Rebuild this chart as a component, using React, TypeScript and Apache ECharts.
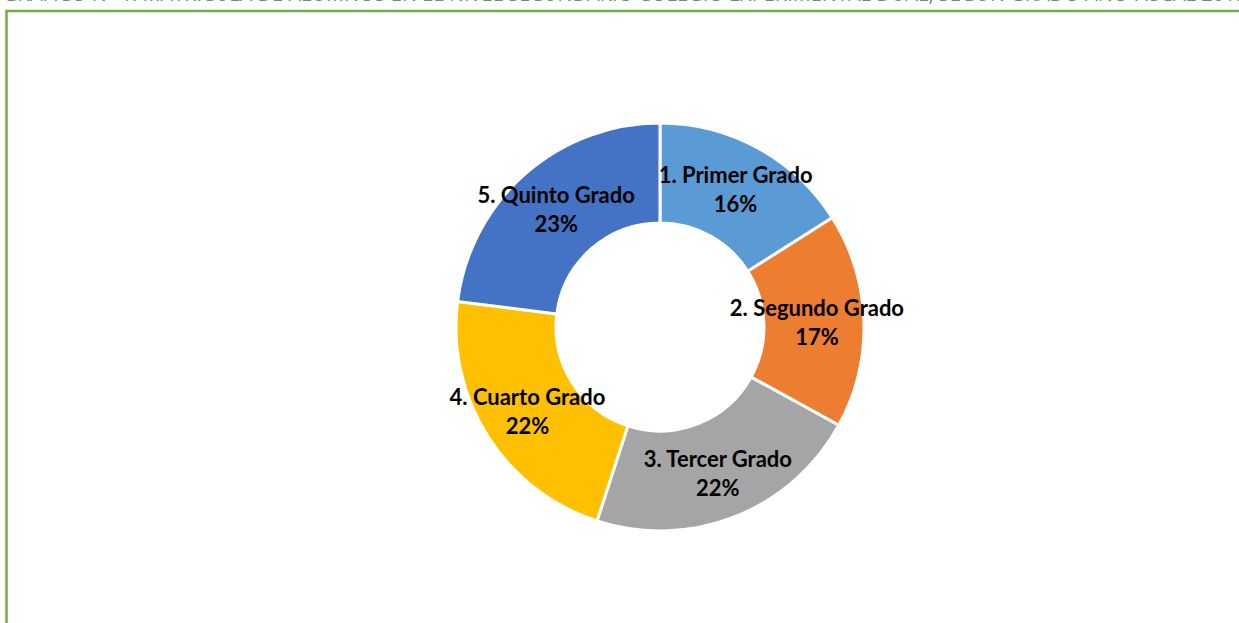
import React, { useEffect, useRef } from "react";
import * as echarts from "echarts";

const categories = ["1. Primer Grado", "2. Segundo Grado", "3. Tercer Grado", "4. Cuarto Grado", "5. Quinto Grado"];
const values = [16, 17, 22, 22, 23];
const colors = ["#5B9BD5", "#ED7D31", "#A5A5A5", "#FFC000", "#4472C4"];
const titleText = "GRÁFICO N° 1: MATRÍCULA DE ALUMNOS EN EL NIVEL SECUNDARIO COLEGIO EXPERIMENTAL DUAL, SEGÚN GRADO AÑO FISCAL 2019";

export default function App() {
  const ref = useRef<HTMLDivElement>(null);
  useEffect(() => {
    const chart = echarts.init(ref.current!, null, { renderer: "svg" });
    chart.setOption({
      animation: false,
      backgroundColor: "#ffffff",
      graphic: [
        {
          type: "text",
          x: 625,
          y: 3,
          style: {
            text: titleText,
            fill: "#7f7f7f",
            font: "20px 'Open Sans', sans-serif",
            textAlign: "center",
            textVerticalAlign: "bottom",
          },
        },
        {
          type: "rect",
          shape: { x: 6.5, y: 11, width: 1400, height: 800 },
          style: { fill: "none", stroke: "#70AD47", lineWidth: 2.5 },
        },
      ],
      series: [
        {
          type: "pie",
          center: [660, 327],
          radius: [104, 204],
          startAngle: 90,
          clockwise: true,
          itemStyle: { borderColor: "#ffffff", borderWidth: 3 },
          label: {
            show: true,
            position: "inside",
            formatter: (p: any) => `${p.name}\n${p.value}%`,
            color: "#000000",
            fontFamily: "Lato, sans-serif",
            fontWeight: "bold",
            fontSize: 22,
            lineHeight: 29,
          },
          labelLine: { show: false },
          data: categories.map((c, i) => ({ name: c, value: values[i], itemStyle: { color: colors[i] } })),
        },
      ],
    });
    return () => chart.dispose();
  }, []);
  return (
    <div
      ref={ref}
      style={{ position: "fixed", left: 0, top: 0, width: 1239, height: 623 }}
    />
  );
}
